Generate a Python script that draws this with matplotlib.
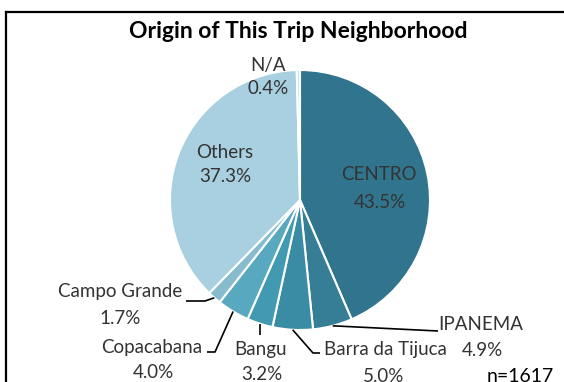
import numpy as np
import matplotlib.pyplot as plt

plt.rcParams['font.family'] = ['Lato', 'DejaVu Sans']

# trip origins by neighborhood (share of trips, %)
neighborhoods = ['CENTRO', 'IPANEMA', 'Barra da Tijuca', 'Bangu',
                 'Copacabana', 'Campo Grande', 'Others', 'N/A']
shares = [43.5, 4.9, 5.0, 3.2, 4.0, 1.7, 37.3, 0.4]
n_total = 1617

colors = ['#30748d', '#357e96', '#3a8ba4', '#429ab2',
          '#58a9c0', '#86bccd', '#a8d0e0', '#c6e2ec']

W, H = 564, 382
fig = plt.figure(figsize=(W / 100, H / 100), dpi=100)
ax = fig.add_axes([0, 0, 1, 1])

# pie centre and radius in pixels (y measured from the top)
cx, cy, r = 300, 200, 130
wedges, _ = ax.pie(shares, colors=colors, startangle=90, counterclock=False,
                   center=(cx, H - cy), radius=r,
                   wedgeprops=dict(edgecolor='white', linewidth=1.5))
ax.set_xlim(0, W)
ax.set_ylim(0, H)
ax.set_aspect('equal')
ax.axis('off')

# label layout: name x, name y, pct x, pct y (pixels from top-left)
label_pos = [
    (379, 175, 380, 202),
    (481, 324, 482, 350),
    (385, 350, 384, 376),
    (261, 350, 262, 375),
    (152, 348, 153, 372),
    (120, 291, 120, 318),
    (225, 152, 225, 177),
    (268, 65, 268, 88),
]
# leader line bends for the small slices (None = label sits inside)
leaders = [
    None,
    [(438, 331)],
    [(313, 353), (320, 353)],
    [(None, 335)],
    [(215, 352), (207, 352)],
    [(205, 301), (186, 301)],
    None,
    None,
]

txt_color = '#333333'
fs = 13.5
for w, name, val, pos, lead in zip(wedges, neighborhoods, shares, label_pos, leaders):
    nx, ny, px, py = pos
    ax.text(nx, H - ny, name, ha='center', va='center', fontsize=fs, color=txt_color)
    ax.text(px, H - py, f'{val:.1f}%', ha='center', va='center', fontsize=fs, color=txt_color)
    if lead is None:
        continue
    mid = np.deg2rad((w.theta1 + w.theta2) / 2)
    ex = cx + r * np.cos(mid)
    ey = cy - r * np.sin(mid)
    xs, ys = [ex], [ey]
    for bx, by in lead:
        xs.append(ex if bx is None else bx)
        ys.append(by)
    ax.plot(xs, [H - y for y in ys], color='black', lw=1.2, solid_capstyle='butt')

ax.text(298, H - 32, 'Origin of This Trip Neighborhood', ha='center', va='center',
        fontsize=16.5, fontweight='bold', color='black')
ax.text(520, H - 376, f'n={n_total}', ha='center', va='center', fontsize=14, color='black')

# chart frame
ax.plot([6, W], [H - 12, H - 12], color='black', lw=1.6, clip_on=False)
ax.plot([6, 6], [H - 12, 0], color='black', lw=1.6, clip_on=False)

fig.savefig('out.png', dpi=100)
